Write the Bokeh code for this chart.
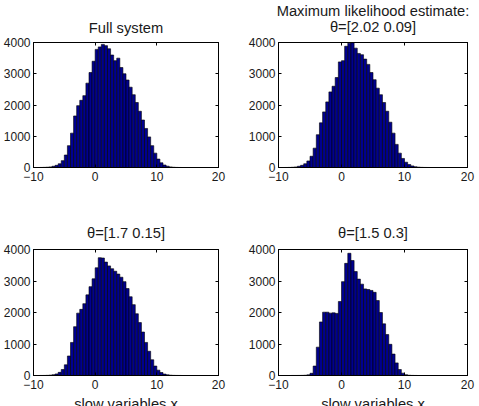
from bokeh.plotting import figure
from bokeh.layouts import column, row
from bokeh.models import Range1d, FixedTicker, LinearAxis, ColumnDataSource
from bokeh.embed import file_html
from bokeh.resources import INLINE

# bin centres of the histograms (slow variable x)
bin_centers = [-8.75, -8.25, -7.75, -7.25, -6.75, -6.25, -5.75, -5.25, -4.75, -4.25,
               -3.75, -3.25, -2.75, -2.25, -1.75, -1.25, -0.75, -0.25, 0.25, 0.75,
               1.25, 1.75, 2.25, 2.75, 3.25, 3.75, 4.25, 4.75, 5.25, 5.75,
               6.25, 6.75, 7.25, 7.75, 8.25, 8.75, 9.25, 9.75, 10.25, 10.75,
               11.25, 11.75, 12.25, 12.75, 13.25, 13.75]

full_system = [2, 5, 10, 20, 40, 70, 120, 220, 400, 700,
               1100, 1650, 1980, 2150, 2300, 2700, 3040, 3400, 3780, 3860,
               3940, 3900, 3800, 3600, 3420, 3500, 3200, 3000, 2800, 2570,
               2330, 2080, 1800, 1520, 1250, 980, 700, 460, 270, 150,
               80, 42, 20, 8, 3, 1]

mle_estimate = [1, 3, 8, 18, 40, 70, 120, 210, 360, 620,
                1050, 1430, 1780, 2100, 2420, 2600, 2880, 3380, 3420, 3880,
                3980, 3995, 3820, 3650, 3610, 3470, 3300, 3040, 2810, 2540,
                2330, 2080, 1800, 1450, 1100, 740, 460, 290, 170, 95,
                52, 25, 12, 5, 2, 1]

theta_17_015 = [1, 2, 5, 12, 25, 50, 100, 190, 340, 620,
                1050, 1550, 1980, 2100, 2280, 2560, 2820, 3070, 3420, 3740,
                3730, 3600, 3480, 3390, 3310, 3220, 3120, 2980, 2760, 2500,
                2250, 1960, 1680, 1380, 1050, 770, 500, 300, 170, 95,
                45, 22, 10, 4, 2, 1]

theta_15_03 = [0, 0, 1, 1, 2, 4, 8, 20, 70, 300,
               900, 1700, 2010, 2010, 1980, 1990, 1970, 2350, 2980, 3560,
               3880, 3650, 3300, 3060, 2900, 2750, 2730, 2700, 2640, 2380,
               2000, 1640, 1300, 990, 680, 400, 190, 75, 25, 8,
               3, 1, 0, 0, 0, 0]

titles = ["Full system",
          "Maximum likelihood estimate:\nθ=[2.02 0.09]",
          "θ=[1.7 0.15]",
          "θ=[1.5 0.3]"]
x_ticks = [-10, 0, 10, 20]
y_ticks = [0, 1000, 2000, 3000, 4000]
x_tick_labels = {-10: "\u221210", 0: "0", 10: "10", 20: "20"}
xlabel = "slow variables x"

FONT = "Liberation Sans"
TXT = "#1a1a1a"


def make_panel(counts, title_text, w, h, left, right, top, bottom, with_xlabel, gap):
    p = figure(width=w, height=h, output_backend="svg", toolbar_location=None,
               tools="", title=None,
               x_range=Range1d(-10, 20), y_range=Range1d(0, 4000),
               min_border_left=left, min_border_right=right,
               min_border_top=top, min_border_bottom=bottom)
    p.background_fill_color = "white"
    p.border_fill_color = "white"
    p.outline_line_color = "black"
    p.outline_line_width = 1
    p.xgrid.visible = False
    p.ygrid.visible = False

    src = ColumnDataSource(dict(x=bin_centers, top=counts))
    p.vbar(x="x", top="top", bottom=0, width=0.5, source=src,
           fill_color="#00008F", line_color="black", line_width=0.6)

    for ax in p.xaxis:
        ax.ticker = FixedTicker(ticks=x_ticks)
        ax.major_label_overrides = x_tick_labels
        ax.major_label_standoff = 4
        if with_xlabel:
            ax.axis_label = xlabel
            ax.axis_label_standoff = 4
            ax.axis_label_text_font = FONT
            ax.axis_label_text_font_size = "14.7px"
            ax.axis_label_text_font_style = "normal"
            ax.axis_label_text_color = TXT
    for ax in p.yaxis:
        ax.ticker = FixedTicker(ticks=y_ticks)
        ax.major_label_standoff = 3
    for ax in list(p.xaxis) + list(p.yaxis):
        ax.major_tick_in = 3
        ax.major_tick_out = 0
        ax.minor_tick_line_color = None
        ax.axis_line_color = "black"
        ax.major_tick_line_color = "black"
        ax.major_label_text_font = FONT
        ax.major_label_text_font_size = "12px"
        ax.major_label_text_color = TXT

    # right-hand and top axes: inward ticks only, the top one carries the title
    ax_r = LinearAxis(ticker=FixedTicker(ticks=y_ticks), major_label_text_font_size="0px",
                      major_label_text_color=None,
                      major_label_standoff=0, major_tick_in=3, major_tick_out=0,
                      minor_tick_line_color=None, axis_line_color="black")
    ax_t = LinearAxis(ticker=FixedTicker(ticks=x_ticks), major_label_text_font_size="0px",
                      major_label_text_color=None,
                      major_label_standoff=0, major_tick_in=3, major_tick_out=0,
                      minor_tick_line_color=None, axis_line_color="black",
                      axis_label=title_text, axis_label_standoff=gap,
                      axis_label_text_font=FONT, axis_label_text_font_size="14.7px",
                      axis_label_text_font_style="normal", axis_label_text_color=TXT,
                      axis_label_text_line_height=0.95)
    p.add_layout(ax_r, "right")
    p.add_layout(ax_t, "above")
    return p


p1 = make_panel(full_system, titles[0], 240, 200, 30, 22, 41, 33, False, 7)
p2 = make_panel(mle_estimate, titles[1], 239, 200, 38, 12, 41, 33, False, 8)
p3 = make_panel(theta_17_015, titles[2], 240, 216, 30, 22, 49, 41, True, 9)
p4 = make_panel(theta_15_03, titles[3], 239, 216, 38, 12, 49, 41, True, 9)

layout = column(row(p1, p2, spacing=0), row(p3, p4, spacing=0), spacing=0)

open("out.html", "w").write(file_html(layout, INLINE))
